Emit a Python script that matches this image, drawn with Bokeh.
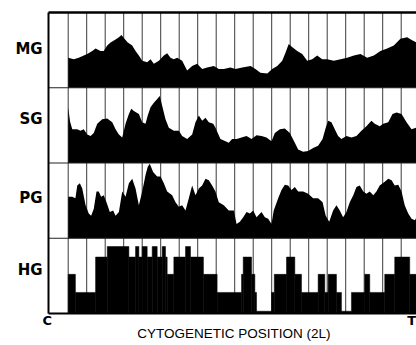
from bokeh.plotting import figure
from bokeh.models import Range1d
from bokeh.core.properties import value
from bokeh.embed import file_html
from bokeh.resources import INLINE

# ---------------- data ----------------
panels = ["MG", "SG", "PG", "HG"]          # top to bottom
x_label = "CYTOGENETIC POSITION (2L)"
end_left = "C"
end_right = "T"

# position in cytogenetic divisions from the centromere end; value = % of panel height
mg_pos = [0.0, 0.30, 0.57, 0.84, 1.03, 1.30, 1.48, 1.75, 1.92, 2.11, 2.29, 2.56, 2.74, 2.88, 3.04,
          3.22, 3.46, 3.64, 3.82, 4.00, 4.27, 4.45, 4.63, 4.90, 5.17, 5.35, 5.53, 5.71, 5.89, 6.16,
          6.43, 6.70, 6.97, 7.24, 7.51, 7.87, 8.14, 8.41, 8.77, 9.04, 9.41, 9.86, 10.12, 10.39, 10.76,
          11.03, 11.30, 11.57, 11.75, 11.92, 12.10, 12.38, 12.65, 12.92, 13.19, 13.46, 13.73, 14.00,
          14.36, 14.72, 15.08, 15.44, 15.80, 16.16, 16.52, 16.88, 17.24, 17.60, 17.96, 18.32, 18.59, 18.83]
mg_val = [40, 38, 40, 43, 45, 49, 52, 49, 49, 56, 60, 64, 67, 70, 65,
          60, 56, 49, 43, 36, 34, 38, 32, 36, 43, 46, 40, 38, 40, 36,
          23, 29, 32, 25, 27, 29, 25, 25, 27, 25, 27, 29, 25, 20, 19,
          25, 29, 36, 47, 58, 54, 49, 45, 36, 38, 43, 38, 38,
          36, 38, 40, 43, 45, 40, 43, 49, 52, 56, 65, 67, 63, 60]

sg_pos = [0.0, 0.10, 0.22, 0.49, 0.66, 0.84, 1.03, 1.21, 1.38, 1.57, 1.84, 2.11, 2.38, 2.56, 2.74,
          2.92, 3.10, 3.28, 3.41, 3.55, 3.82, 4.00, 4.18, 4.30, 4.45, 4.63, 4.81, 4.95, 5.08, 5.26,
          5.44, 5.71, 5.98, 6.16, 6.43, 6.70, 6.88, 7.06, 7.24, 7.42, 7.60, 7.84, 7.96, 8.23, 8.50,
          8.68, 8.86, 9.10, 9.37, 9.64, 9.91, 10.18, 10.45, 10.72, 10.99, 11.17, 11.44, 11.71, 11.98,
          12.25, 12.43, 12.70, 12.97, 13.24, 13.51, 13.75, 13.92, 14.05, 14.23, 14.41, 14.59, 14.77,
          15.04, 15.31, 15.58, 15.85, 16.12, 16.39, 16.57, 16.84, 17.03, 17.30, 17.53, 17.75, 18.02,
          18.29, 18.56, 18.83]
sg_val = [74, 55, 45, 45, 43, 45, 38, 36, 40, 52, 58, 59, 54, 45, 38,
          34, 52, 65, 72, 69, 65, 54, 52, 63, 74, 80, 85, 89, 76, 58,
          47, 43, 43, 36, 32, 38, 54, 63, 56, 60, 54, 52, 47, 32, 29,
          27, 32, 32, 34, 36, 32, 37, 36, 34, 29, 40, 45, 46, 40,
          27, 18, 15, 16, 20, 23, 32, 47, 56, 54, 45, 36, 32,
          36, 34, 36, 43, 49, 56, 52, 49, 52, 54, 65, 67, 65,
          54, 45, 47]

pg_pos = [0.0, 0.22, 0.39, 0.49, 0.63, 0.76, 0.94, 1.11, 1.24, 1.38, 1.53, 1.65, 1.78, 1.92, 2.07,
          2.25, 2.43, 2.56, 2.74, 2.92, 3.10, 3.28, 3.46, 3.64, 3.82, 4.00, 4.18, 4.30, 4.41, 4.59,
          4.81, 4.99, 5.17, 5.35, 5.62, 5.80, 5.98, 6.16, 6.34, 6.52, 6.70, 6.88, 7.06, 7.24, 7.42,
          7.60, 7.78, 7.96, 8.14, 8.41, 8.68, 8.95, 9.10, 9.28, 9.46, 9.64, 9.82, 10.00, 10.18, 10.45,
          10.63, 10.81, 10.99, 11.11, 11.35, 11.53, 11.71, 11.89, 12.07, 12.25, 12.43, 12.70, 12.97,
          13.24, 13.51, 13.75, 13.92, 14.11, 14.32, 14.50, 14.68, 14.86, 15.04, 15.22, 15.41, 15.58,
          15.76, 15.95, 16.12, 16.30, 16.49, 16.66, 16.84, 17.11, 17.30, 17.48, 17.65, 17.84, 18.02,
          18.19, 18.38, 18.56, 18.74, 18.83]
pg_val = [55, 55, 53, 70, 73, 66, 44, 33, 30, 39, 62, 62, 55, 57, 48,
          35, 37, 30, 35, 62, 55, 73, 79, 66, 44, 62, 84, 95, 99, 88,
          82, 82, 73, 62, 57, 48, 42, 44, 37, 53, 70, 57, 66, 70, 79,
          77, 70, 62, 48, 44, 37, 37, 19, 22, 28, 35, 33, 37, 28, 35,
          28, 26, 19, 37, 53, 64, 71, 70, 64, 68, 62, 62, 59,
          53, 53, 48, 30, 22, 37, 44, 37, 28, 35, 48, 57, 68,
          70, 62, 59, 62, 57, 62, 70, 75, 79, 77, 70, 71, 62,
          44, 33, 26, 24, 28]

# HG is a step profile: bin edges and the level in each bin
hg_edges = [0.0, 0.39, 1.48, 2.11, 3.28, 3.64, 3.82, 4.00, 4.27, 4.54, 4.81, 5.08, 5.26, 5.35, 5.71,
            6.34, 6.61, 7.31, 8.05, 9.37, 9.46, 9.91, 10.09, 10.18, 10.99, 11.14, 11.80, 12.25, 12.61,
            13.51, 13.87, 14.05, 14.50, 14.77, 15.31, 16.03, 16.30, 17.11, 17.65, 18.46, 18.83]
hg_val = [52, 28, 75, 89, 75, 89, 75, 89, 75, 89, 75, 89, 75, 52, 75,
          89, 75, 52, 28, 52, 75, 52, 28, 3, 28, 52, 75, 52, 28,
          52, 28, 52, 28, 3, 28, 52, 28, 52, 75, 52]

division_lines = list(range(0, 19))

# ---------------- layout ----------------
W, H = 416, 345
PX_DIV = 18.5        # pixels per division
PX_PANEL = 75.25     # pixels per panel
n = len(panels)
x_start = -67.7 / PX_DIV
y_end = n + 12 / PX_PANEL

p = figure(width=W, height=H, output_backend="svg", toolbar_location=None,
           x_range=Range1d(x_start, x_start + W / PX_DIV),
           y_range=Range1d(y_end - H / PX_PANEL, y_end),
           min_border=0, min_border_left=0, min_border_right=0,
           min_border_top=0, min_border_bottom=0)
p.axis.visible = False
p.grid.visible = False
p.outline_line_color = None
p.background_fill_color = "white"
p.border_fill_color = "white"

frame_left = -1.065

# division lines (behind fills)
p.segment(x0=division_lines, y0=[0] * len(division_lines),
          x1=division_lines, y1=[n] * len(division_lines),
          line_color="#3a3a3a", line_width=1)

def base(i):
    return n - 1 - i

profiles = [(mg_pos, mg_val), (sg_pos, sg_val), (pg_pos, pg_val)]
for i, (xs, vs) in enumerate(profiles):
    b = base(i)
    p.varea(x=xs, y1=[b] * len(xs), y2=[b + v / 100 for v in vs], fill_color="black")

bh = base(3)
p.quad(left=hg_edges[:-1], right=hg_edges[1:], bottom=[bh] * len(hg_val),
       top=[bh + v / 100 for v in hg_val], fill_color="black", line_color="black", line_width=0.5)

# frame
p.segment(x0=[frame_left] * 3, y0=[1, 2, 3], x1=[20] * 3, y1=[1, 2, 3],
          line_color="#222222", line_width=1)
p.segment(x0=[frame_left], y0=[0], x1=[frame_left], y1=[n], line_color="black", line_width=2)
p.segment(x0=[frame_left], y0=[n], x1=[20], y1=[n], line_color="black", line_width=2.5)
p.segment(x0=[frame_left], y0=[0], x1=[20], y1=[0], line_color="black", line_width=2)

# panel labels
label_offsets = [0.51, 0.58, 0.54, 0.58]
p.text(x=[-1.38] * n, y=[base(i) + label_offsets[i] for i in range(n)], text=panels,
       text_font=value("DejaVu Sans"), text_font_style="bold", text_font_size="15px",
       text_align="right", text_baseline="middle", text_color="black")

p.text(x=[-1.135], y=[-0.093], text=[end_left], text_font=value("DejaVu Sans"),
       text_font_style="bold", text_font_size="13px", text_align="center",
       text_baseline="middle", text_color="black")
p.text(x=[x_start + W / PX_DIV - 0.02], y=[-0.093], text=[end_right], text_font=value("DejaVu Sans"),
       text_font_style="bold", text_font_size="13px", text_align="right",
       text_baseline="middle", text_color="black")
p.text(x=[8.95], y=[-0.265], text=[x_label], text_font=value("Liberation Sans"),
       text_font_size="13.5px", text_align="center", text_baseline="middle", text_color="black")

open("out.html", "w").write(file_html(p, INLINE))
